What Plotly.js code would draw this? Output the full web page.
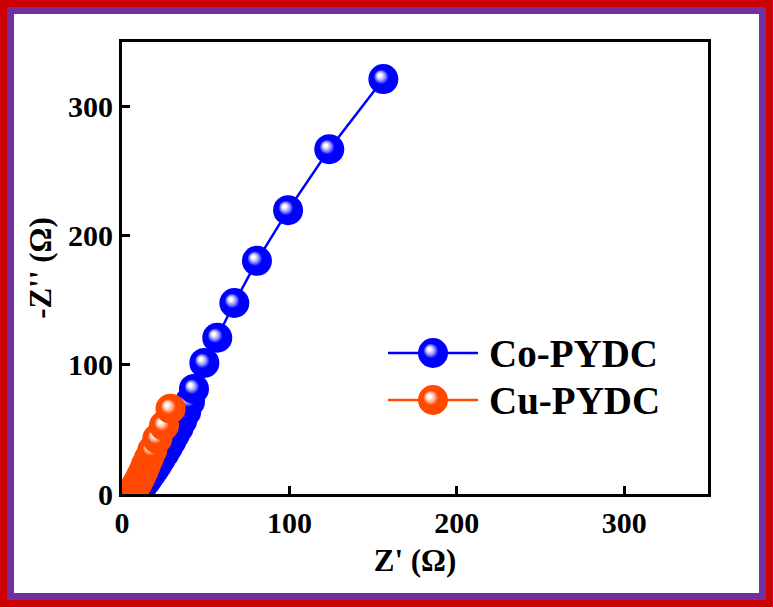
<!DOCTYPE html>
<html>
<head>
<meta charset="utf-8">
<script src="https://cdn.plot.ly/plotly-3.0.1.min.js"></script>
<style>
html,body{margin:0;padding:0;background:#fff;}
#wrap{position:relative;width:774px;height:608px;overflow:hidden;background:#fff;}
#plot{position:absolute;left:0;top:0;width:774px;height:608px;}
#b1{position:absolute;left:0;top:0;width:773px;height:607px;box-sizing:border-box;border:7px solid #cc0000;pointer-events:none;}
#b2{position:absolute;left:7px;top:7px;width:759px;height:593px;box-sizing:border-box;border:7px solid #7030a0;pointer-events:none;}
</style>
</head>
<body>
<div id="wrap">
  <div id="plot"></div>
  <div id="b1"></div>
  <div id="b2"></div>
</div>
<script>
// ---- data ----
var seriesNames = ["Co-PYDC", "Cu-PYDC"];
var coX = [8, 9, 10, 11.2, 12.6, 14, 15.6, 17.3, 19.2, 21.2, 23.2, 25.3, 27.4, 29.5, 31.6, 33.8, 36, 38.3, 40.6, 43.0, 49.2, 56.9, 67.1, 80.6, 99.2, 123.8, 156.1];
var coY = [0.5, 1.5, 3, 4.8, 7, 9.5, 12.3, 15.5, 19, 23, 27.2, 31.6, 36.2, 41, 46, 51.2, 57, 63.5, 71.5, 81.4, 101.5, 121, 147.9, 180.6, 219.8, 267, 321.3];
var cuX = [5, 5.5, 6, 6.5, 7.1, 7.8, 8.6, 9.5, 10.5, 11.6, 12.9, 14.3, 16, 18.1, 21.1, 25.1, 29];
var cuY = [0.2, 0.8, 1.6, 2.6, 3.8, 5.2, 7, 9, 11.5, 14.5, 18, 22.5, 27.5, 33.8, 42.9, 53, 66.1];
var tickVals = [0, 100, 200, 300];
var tickText = ["0", "100", "200", "300"];

// ---- styles ----
var BLUE = '#0000ff', ORANGE = '#ff4800';
var FONT = 'Liberation Serif, Times New Roman, serif';
var W = 774, H = 608;
var M = {l:122, r:66, t:42, b:114};
var PW = W - M.l - M.r, PH = H - M.t - M.b;
function px2x(p){ return (p - M.l) / PW; }
function px2y(p){ return (H - M.b - p) / PH; }

function sphereMarker(color){
  return {size: 30, color: color, line: {width: 0}, gradient: {type: 'radial', color: '#ffffff'}};
}

var data = [
  {x: coX, y: coY, name: seriesNames[0], mode: 'lines+markers', type: 'scatter',
   line: {color: BLUE, width: 2.5}, marker: sphereMarker(BLUE)},
  {x: cuX, y: cuY, name: seriesNames[1], mode: 'lines+markers', type: 'scatter',
   line: {color: ORANGE, width: 2.5}, marker: sphereMarker(ORANGE)}
];

// custom legend (large sphere symbols), placed in plot-fraction units
var LX0 = px2x(388), LX1 = px2x(478), LXM = px2x(433), LXT = px2x(487);
var LY = [px2y(353), px2y(400)];
var LCOL = [BLUE, ORANGE];
var annotations = [];
for (var i = 0; i < 2; i++) {
  data.push({x: [LX0, LX1], y: [LY[i], LY[i]], xaxis: 'x3', yaxis: 'y3', mode: 'lines',
             line: {color: LCOL[i], width: 2.5}, hoverinfo: 'skip', cliponaxis: false});
  data.push({x: [LXM], y: [LY[i]], xaxis: 'x3', yaxis: 'y3', mode: 'markers',
             marker: sphereMarker(LCOL[i]), hoverinfo: 'skip', cliponaxis: false});
  annotations.push({xref: 'paper', yref: 'paper', x: LXT, y: LY[i], xanchor: 'left', yanchor: 'middle',
                    text: seriesNames[i], showarrow: false,
                    font: {family: FONT, size: 39, color: '#000', weight: 'bold'}});
}

var axisCommon = {
  range: [0, 350], tickmode: 'array', tickvals: tickVals, ticktext: tickText,
  ticks: 'inside', ticklen: 8, tickwidth: 3, tickcolor: '#000',
  showline: true, linewidth: 3, linecolor: '#000', mirror: true,
  showgrid: false, zeroline: false, fixedrange: true,
  tickfont: {family: FONT, size: 30, color: '#000', weight: 'bold'}
};

var layout = {
  width: W, height: H, margin: M,
  paper_bgcolor: '#ffffff', plot_bgcolor: '#ffffff',
  showlegend: false,
  font: {family: FONT, color: '#000'},
  xaxis: Object.assign({}, axisCommon, {
    title: {text: "Z' (Ω)", font: {family: FONT, size: 31, color: '#000', weight: 'bold'}, standoff: 12}
  }),
  yaxis: Object.assign({}, axisCommon, {
    title: {text: "-Z'' (Ω)", font: {family: FONT, size: 31, color: '#000', weight: 'bold'}, standoff: 8}
  }),
  xaxis3: {domain: [0, 1], range: [0, 1], overlaying: 'x', anchor: 'y3', visible: false, fixedrange: true},
  yaxis3: {domain: [0, 1], range: [0, 1], overlaying: 'y', anchor: 'x3', visible: false, fixedrange: true},
  annotations: annotations
};

function parseRGB(s){
  var m = /rgba?\(\s*(\d+)\s*,\s*(\d+)\s*,\s*(\d+)/.exec(s || '');
  if (m) return [+m[1], +m[2], +m[3]];
  if (s && s[0] === '#' && s.length === 7) return [parseInt(s.substr(1,2),16), parseInt(s.substr(3,2),16), parseInt(s.substr(5,2),16)];
  return null;
}
function mix(c, t){ return 'rgb(' + c.map(function(v){ return Math.round(v + (255 - v) * t); }).join(',') + ')'; }

Plotly.newPlot('plot', data, layout, {staticPlot: true}).then(function(gd){
  var NS = 'http://www.w3.org/2000/svg';
  var grads = gd.querySelectorAll('radialGradient');
  Array.prototype.forEach.call(grads, function(g){
    var stops = g.querySelectorAll('stop');
    var base = null;
    Array.prototype.forEach.call(stops, function(s){
      var c = parseRGB(s.getAttribute('stop-color'));
      if (c && !(c[0] > 250 && c[1] > 250 && c[2] > 250)) base = c;
    });
    if (!base) return;
    while (g.firstChild) g.removeChild(g.firstChild);
    g.setAttribute('cx', '0.5'); g.setAttribute('cy', '0.5'); g.setAttribute('r', '0.5');
    g.setAttribute('fx', '0.36'); g.setAttribute('fy', '0.36');
    var spec = [[0, 'rgb(255,255,255)'], [0.11, 'rgb(255,255,255)'], [0.3, mix(base, 0.6)],
                [0.5, mix(base, 0.0)], [1, mix(base, 0.0)]];
    spec.forEach(function(sp){
      var st = document.createElementNS(NS, 'stop');
      st.setAttribute('offset', sp[0]);
      st.setAttribute('stop-color', sp[1]);
      st.setAttribute('stop-opacity', '1');
      g.appendChild(st);
    });
  });
});
</script>
</body>
</html>
